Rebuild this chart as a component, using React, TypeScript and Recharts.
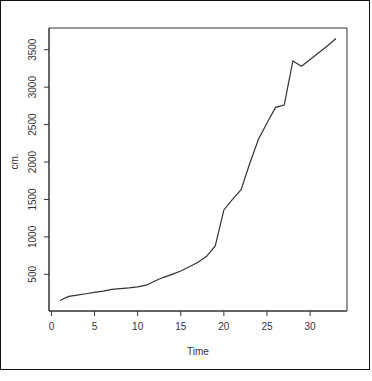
import {
  LineChart,
  Line,
  XAxis,
  YAxis,
  ReferenceArea,
} from 'recharts';

const times = [
  1, 2, 3, 4, 5, 6, 7, 8, 9, 10, 11, 12, 13, 14, 15, 16, 17,
  18, 19, 20, 21, 22, 23, 24, 25, 26, 27, 28, 29, 30, 31, 32, 33,
];
const heights = [
  150, 205, 222, 240, 258, 276, 300, 310, 318, 332, 355, 410, 460, 500, 545, 600, 660,
  740, 880, 1360, 1500, 1630, 1980, 2300, 2520, 2730, 2760, 3350, 3280, 3370, 3460, 3550, 3650,
];
const xTicks = [0, 5, 10, 15, 20, 25, 30];
const yTicks = [500, 1000, 1500, 2000, 2500, 3000, 3500];

const data = times.map((t, i) => ({ t, cm: heights[i] }));

// R-style 4% axis padding
const pad = (lo: number, hi: number): [number, number] => {
  const d = (hi - lo) * 0.04;
  return [lo - d, hi + d];
};
const xDomain = pad(Math.min(...times), Math.max(...times));
const yDomain = pad(Math.min(...heights), Math.max(...heights));

const INK = '#333';
const FONT = '"Liberation Sans", Arial, sans-serif';

const XTick = ({ x, y, payload }: any) => (
  <text x={x} y={y + 12} textAnchor="middle" fontSize={10} fill={INK} fontFamily={FONT}>
    {payload.value}
  </text>
);

const YTick = ({ x, y, payload }: any) => (
  <text
    x={x - 6}
    y={y}
    transform={`rotate(-90 ${x - 6} ${y})`}
    textAnchor="middle"
    fontSize={10}
    fill={INK}
    fontFamily={FONT}
  >
    {payload.value}
  </text>
);

export default function App() {
  return (
    <div
      style={{
        position: 'absolute',
        left: 0,
        top: 0,
        width: 370,
        height: 370,
        border: '1px solid #111',
        boxSizing: 'border-box',
        background: '#fff',
      }}
    >
      <LineChart width={368} height={368} data={data} margin={{ top: 27, right: 22, left: 0, bottom: 0 }}>
        <XAxis
          dataKey="t"
          type="number"
          domain={xDomain}
          ticks={xTicks}
          allowDataOverflow
          height={58}
          tickSize={5}
          tickLine={{ stroke: INK }}
          axisLine={{ stroke: INK }}
          tick={<XTick />}
          label={{ value: 'Time', position: 'insideBottom', offset: 14, fontSize: 10, fill: INK, fontFamily: FONT }}
        />
        <YAxis
          type="number"
          domain={yDomain}
          ticks={yTicks}
          allowDataOverflow
          width={48}
          tickSize={5}
          tickLine={{ stroke: INK }}
          axisLine={{ stroke: INK }}
          tick={<YTick />}
          label={{ value: 'cm.', angle: -90, position: 'insideLeft', offset: 13, fontSize: 10, fill: INK, fontFamily: FONT }}
        />
        <ReferenceArea
          x1={xDomain[0]}
          x2={xDomain[1]}
          y1={yDomain[0]}
          y2={yDomain[1]}
          fill="none"
          stroke={INK}
          strokeWidth={1}
        />
        <Line
          type="linear"
          dataKey="cm"
          stroke={INK}
          strokeWidth={1.2}
          dot={false}
          isAnimationActive={false}
        />
      </LineChart>
    </div>
  );
}
